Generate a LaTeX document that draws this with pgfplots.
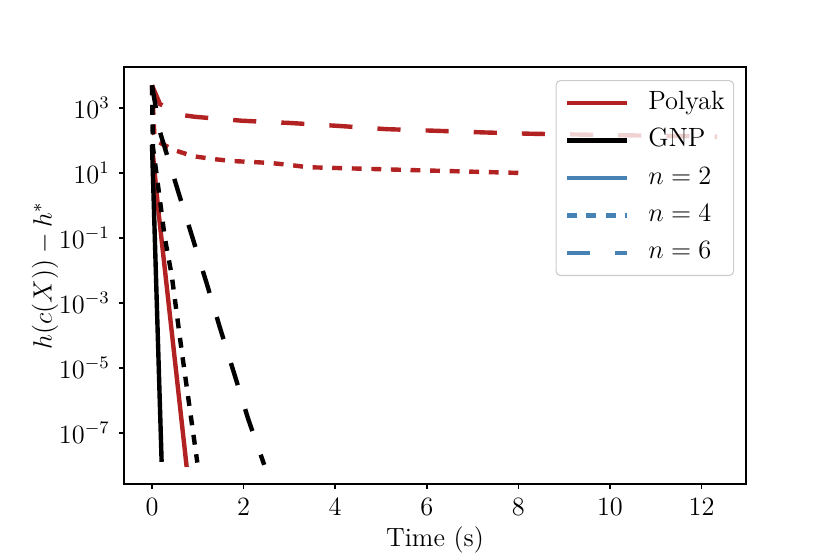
\documentclass[12pt,border=0pt]{standalone}
\usepackage{pgfplots}
\pgfplotsset{compat=1.18}
\definecolor{firebrick}{RGB}{178,34,34}
\definecolor{steelblue}{RGB}{70,130,180}
\begin{document}
\begin{tikzpicture}
\begin{axis}[
  at={(0,0)}, anchor=south west,
  scale only axis, width=282.7pt, height=189.5pt,
  xmin=-0.61, xmax=12.97,
  ymode=log, ymin=2.7e-9, ymax=1.82e4,
  xtick={0,2,...,12},
  ytick={1e-7,1e-5,1e-3,1e-1,1e1,1e3},
  minor ytick={},
  tick align=outside, major tick length=2.3pt,
  xtick pos=bottom, ytick pos=left,
  axis line style={line width=0.8pt}, every tick/.style={black, line width=0.7pt},
  xlabel={Time (s)},
  ylabel={$h(c(X)) - h^*$},
  xlabel style={at={(axis description cs:0.5,-0.135)}, anchor=center},
  ylabel style={at={(axis description cs:-0.127,0.5)}, anchor=center},
  legend image code/.code={\draw[#1] (0pt,0pt) -- (27.3pt,0pt);},
  legend cell align=left,
  legend style={at={(0.981,0.969)}, anchor=north east,
    draw=black!20, line width=0.5pt, rounded corners=2pt,
    fill=white, fill opacity=0.8, draw opacity=1, text opacity=1,
    inner xsep=4pt, inner ysep=4.5pt, row sep=5.4pt,
    nodes={inner xsep=0pt, inner ysep=0pt, text height=8.6pt, text depth=3pt},
    /tikz/every odd column/.append style={column sep=8.6pt}},
  every axis plot/.append style={line width=2pt},
]
% legend samples
\addlegendimage{firebrick, line width=2pt}
\addlegendimage{black, line width=2pt}
\addlegendimage{steelblue, line width=2pt}
\addlegendimage{steelblue, line width=2pt, dash pattern=on 4.5pt off 4.3pt}
\addlegendimage{steelblue, line width=2pt, dash pattern=on 10.5pt off 11.4pt}
\legend{Polyak, GNP, $n=2$, $n=4$, $n=6$}

% n = 2
\addplot[firebrick, forget plot] coordinates {(0,72) (0.138,0.72) (0.757,9e-9)};
\addplot[black, forget plot] coordinates {(0,72) (0.21,1.3e-8)};
% n = 4
\addplot[firebrick, forget plot, dash pattern=on 4.5pt off 4.4pt] coordinates {
  (0,5000) (0.05,158) (0.15,89) (0.48,51) (0.9,33) (1.33,27) (1.75,23.4)
  (2.18,21.9) (2.58,20.4) (3.0,17.8) (3.4,15.1) (5.7,12.3) (8.1,10)};
\addplot[black, forget plot, dash pattern=on 4.5pt off 4.4pt] coordinates {
  (0,5000) (0.02,63) (0.11,7.1) (0.28,0.1) (0.43,7.2e-3) (0.65,3.2e-5) (0.99,1.23e-8)};
% n = 6
\addplot[firebrick, forget plot, dash pattern=on 10.5pt off 11.4pt] coordinates {
  (0,5000) (0.175,1318) (0.68,603) (0.94,537) (1.96,407) (3.01,347) (4.07,282)
  (5.12,224) (6.18,200) (7.22,178) (8.25,162) (10.3,145) (12.34,132)};
\addplot[black, forget plot, dash pattern=on 10.5pt off 11.4pt] coordinates {
  (0,5000) (0.175,182) (0.574,2.63) (1.19,4.2e-3) (1.48,1.8e-4) (1.79,7.1e-6)
  (2.10,2.7e-7) (2.45,1.05e-8)};
\end{axis}
\pgfresetboundingbox
\path[use as bounding box] (-56.4pt,-31.8pt) rectangle (320.9pt,220pt);
\end{tikzpicture}
\end{document}
